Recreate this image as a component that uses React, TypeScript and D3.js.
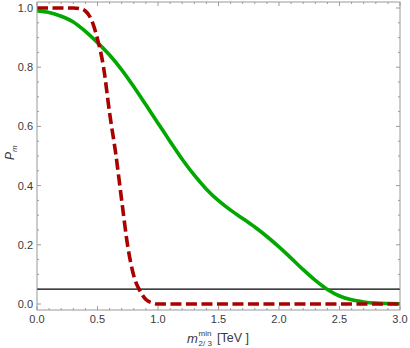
import React from 'react';
import * as d3 from 'd3';

// values
const xGrid = [0, 0.1, 0.2, 0.3, 0.4, 0.5, 0.6, 0.7, 0.8, 0.9, 1.0, 1.1, 1.2, 1.3, 1.4, 1.5,
  1.6, 1.7, 1.8, 1.9, 2.0, 2.1, 2.2, 2.3, 2.4, 2.5, 2.6, 2.7, 2.8, 2.9, 3.0];
const greenValues = [0.99, 0.985, 0.972, 0.953, 0.921, 0.883, 0.841, 0.791, 0.734, 0.673, 0.611,
  0.549, 0.489, 0.435, 0.388, 0.349, 0.317, 0.289, 0.26, 0.228, 0.193, 0.155, 0.116, 0.08,
  0.049, 0.027, 0.014, 0.007, 0.003, 0.0015, 0.001];

const redX = [0, 0.1, 0.2, 0.3, 0.35, 0.4, 0.45, 0.5, 0.55, 0.6, 0.65, 0.7, 0.75, 0.8, 0.85,
  0.9, 0.95, 1.0, 1.5, 2.0, 2.5, 3.0];
const redValues = [1, 1, 1, 1, 0.998, 0.99, 0.96, 0.895, 0.8, 0.645, 0.51, 0.35, 0.195, 0.095,
  0.045, 0.015, 0.004, 0, 0, 0, 0, 0];

const threshold = 0.05;

const xMajor = [0, 0.5, 1.0, 1.5, 2.0, 2.5, 3.0];
const yMajor = [0, 0.2, 0.4, 0.6, 0.8, 1.0];

const W = 410;
const H = 348;
const left = 37, right = 400, top = 2, bottom = 310;

const App = () => {
  const x = d3.scaleLinear().domain([0, 3]).range([left, right]);
  const y = d3.scaleLinear().domain([0, 1]).range([304, 8]);

  const green = d3.line<[number, number]>()
    .x(d => x(d[0]))
    .y(d => y(d[1]))
    .curve(d3.curveCatmullRom.alpha(0.5))(xGrid.map((v, i) => [v, greenValues[i]]));

  const red = d3.line<[number, number]>()
    .x(d => x(d[0]))
    .y(d => y(d[1]))
    .curve(d3.curveMonotoneX)(redX.map((v, i) => [v, redValues[i]]));

  const xMinor = d3.range(0, 30.5, 1).map(v => v / 10).filter(v => Math.round(v * 10) % 5 !== 0);
  const yMinor = d3.range(0, 20.5, 1).map(v => v / 20).filter(v => Math.round(v * 20) % 4 !== 0);

  const frame = '#9a9a9a';
  const font = '"Liberation Sans", Arial, sans-serif';

  return (
    <svg width={W} height={H} style={{ position: 'absolute', left: 0, top: 0 }} fontFamily={font}>
      <rect width={W} height={H} fill="white" />
      <defs>
        <clipPath id="plot">
          <rect x={left} y={top} width={right - left} height={bottom - top} />
        </clipPath>
      </defs>

      {/* ticks on all four sides */}
      <g stroke={frame} strokeWidth={1}>
        {xMajor.map(v => (
          <g key={'xM' + v}>
            <line x1={x(v)} x2={x(v)} y1={bottom} y2={bottom - 4} />
            <line x1={x(v)} x2={x(v)} y1={top} y2={top + 4} />
          </g>
        ))}
        {xMinor.map(v => (
          <g key={'xm' + v}>
            <line x1={x(v)} x2={x(v)} y1={bottom} y2={bottom - 2} />
            <line x1={x(v)} x2={x(v)} y1={top} y2={top + 2} />
          </g>
        ))}
        {yMajor.map(v => (
          <g key={'yM' + v}>
            <line x1={left} x2={left + 4} y1={y(v)} y2={y(v)} />
            <line x1={right} x2={right - 4} y1={y(v)} y2={y(v)} />
          </g>
        ))}
        {yMinor.map(v => (
          <g key={'ym' + v}>
            <line x1={left} x2={left + 2} y1={y(v)} y2={y(v)} />
            <line x1={right} x2={right - 2} y1={y(v)} y2={y(v)} />
          </g>
        ))}
      </g>

      <g clipPath="url(#plot)">
        <line x1={left} x2={right} y1={y(threshold)} y2={y(threshold)} stroke="black" strokeWidth={1.2} />
        <path d={green ?? ''} fill="none" stroke="#00a800" strokeWidth={3.6} />
        <path d={red ?? ''} fill="none" stroke="#aa0000" strokeWidth={3.6} strokeDasharray="11 4.5" />
      </g>

      <rect x={left} y={top} width={right - left} height={bottom - top} fill="none" stroke={frame} strokeWidth={1} />

      {/* tick labels */}
      <g fontSize={11} fill="#3a3a3a">
        {xMajor.map(v => (
          <text key={'xl' + v} x={x(v)} y={323} textAnchor="middle">{v.toFixed(1)}</text>
        ))}
        {yMajor.map(v => (
          <text key={'yl' + v} x={33} y={y(v) + 4} textAnchor="end">{v.toFixed(1)}</text>
        ))}
      </g>

      {/* axis labels */}
      <text x={187} y={343} fontSize={13} fill="#3a3a3a">
        <tspan fontStyle="italic">m</tspan>
      </text>
      <text x={198.5} y={336} fontSize={8} fill="#3a3a3a">min</text>
      <text x={198.5} y={346} fontSize={8} fill="#3a3a3a">2/ 3</text>
      <text x={217} y={342} fontSize={12.5} fill="#3a3a3a">[TeV ]</text>

      <g transform="translate(14,160) rotate(-90)">
        <text x={0} y={0} fontSize={12} fill="#3a3a3a" fontStyle="italic">P</text>
        <text x={8} y={3} fontSize={8} fill="#3a3a3a" fontStyle="italic">m</text>
      </g>
    </svg>
  );
};

export default App;
